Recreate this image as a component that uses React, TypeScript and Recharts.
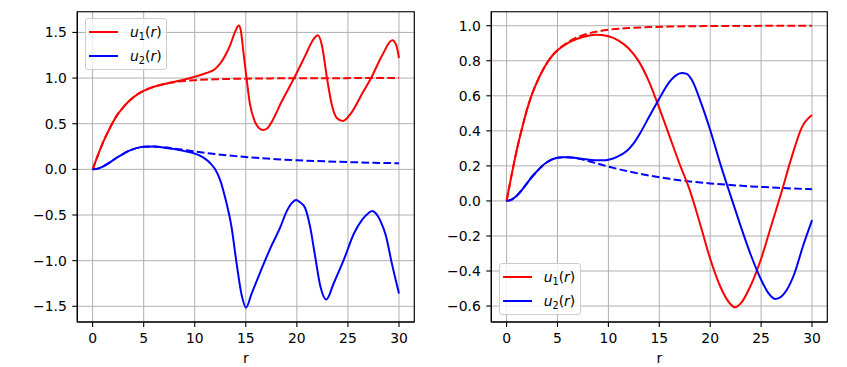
import { LineChart, Line, XAxis, YAxis, CartesianGrid, ReferenceArea } from 'recharts'

// reference curves (dashed), shared by both panels
const refR = [0, 0.5, 1, 1.5, 2, 2.5, 3, 3.5, 4, 4.5, 5, 6, 7, 8, 9, 10, 12, 14, 16, 18, 20, 22, 24, 26, 28, 30]
const refU1 = [0, 0.15, 0.29, 0.41, 0.52, 0.61, 0.68, 0.74, 0.79, 0.83, 0.86, 0.905, 0.935, 0.955, 0.968, 0.977, 0.987, 0.992, 0.995, 0.997, 0.998, 0.999, 0.999, 1.0, 1.0, 1.0]
const refU2 = [0, 0.008, 0.03, 0.062, 0.1, 0.138, 0.17, 0.2, 0.222, 0.238, 0.247, 0.25, 0.242, 0.228, 0.212, 0.196, 0.168, 0.145, 0.126, 0.111, 0.1, 0.091, 0.083, 0.077, 0.071, 0.067]

// left panel
const leftU1R = [0, 0.5, 1, 1.5, 2, 2.5, 3, 3.5, 4, 4.5, 5, 6, 7, 8, 9, 10, 11, 12, 12.5, 13, 13.5, 14, 14.3, 14.5, 14.75, 15.07, 15.4, 15.9, 16.3, 16.73, 17.2, 17.54, 18.5, 19.73, 20.8, 21.6, 22.06, 22.45, 22.95, 23.44, 23.93, 24.49, 25.4, 26.4, 27.27, 28.36, 29.34, 29.73, 30]
const leftU1 = [0, 0.15, 0.29, 0.41, 0.52, 0.61, 0.68, 0.74, 0.79, 0.83, 0.86, 0.905, 0.935, 0.96, 0.985, 1.015, 1.05, 1.1, 1.16, 1.25, 1.37, 1.52, 1.575, 1.53, 1.3, 1.0, 0.72, 0.52, 0.45, 0.43, 0.46, 0.52, 0.74, 1.0, 1.24, 1.42, 1.47, 1.36, 1.0, 0.7, 0.56, 0.53, 0.63, 0.83, 1.0, 1.25, 1.415, 1.36, 1.22]
const leftU2R = [0, 0.5, 1, 1.5, 2, 2.5, 3, 3.5, 4, 4.5, 5, 6, 7, 8, 9, 10, 10.5, 11, 11.5, 12, 12.5, 13, 13.6, 14.1, 14.6, 15.02, 15.57, 16.4, 17.4, 18.4, 19, 19.5, 19.93, 20.3, 20.8, 21.3, 21.8, 22.3, 22.89, 23.6, 24.6, 25.6, 26.4, 27, 27.38, 27.8, 28.2, 28.7, 29.3, 30]
const leftU2 = [0, 0.008, 0.03, 0.062, 0.1, 0.138, 0.17, 0.2, 0.222, 0.238, 0.247, 0.25, 0.238, 0.222, 0.2, 0.172, 0.15, 0.118, 0.07, 0.0, -0.12, -0.32, -0.63, -1.03, -1.38, -1.515, -1.36, -1.13, -0.865, -0.628, -0.46, -0.37, -0.336, -0.36, -0.42, -0.63, -0.96, -1.28, -1.425, -1.25, -0.99, -0.7, -0.55, -0.48, -0.455, -0.49, -0.57, -0.72, -1.03, -1.36]

// right panel
const rightU1R = [0, 0.5, 1, 1.5, 2, 2.5, 3, 3.5, 4, 4.5, 5, 6, 7, 8, 8.8, 10, 11, 12, 13, 14, 15, 16, 17, 18, 19, 20, 21, 22, 22.4, 23, 24, 25, 26, 27, 28, 29, 30]
const rightU1 = [0, 0.15, 0.29, 0.41, 0.52, 0.61, 0.68, 0.74, 0.79, 0.83, 0.86, 0.9, 0.927, 0.943, 0.948, 0.94, 0.915, 0.87, 0.795, 0.68, 0.53, 0.37, 0.21, 0.06, -0.13, -0.33, -0.49, -0.59, -0.607, -0.585, -0.48, -0.33, -0.14, 0.05, 0.25, 0.42, 0.49]
const rightU2R = [0, 0.5, 1, 1.5, 2, 2.5, 3, 3.5, 4, 4.5, 5, 5.5, 6, 7, 8, 9, 9.5, 10, 10.8, 11.8, 12.5, 13.1, 14, 15, 16, 16.6, 17.2, 17.7, 18.2, 19.1, 20, 21, 22, 23, 24, 25, 25.7, 26.4, 27, 27.5, 28.3, 29.1, 30]
const rightU2 = [0, 0.008, 0.03, 0.062, 0.1, 0.138, 0.17, 0.2, 0.222, 0.238, 0.247, 0.25, 0.25, 0.243, 0.236, 0.232, 0.232, 0.235, 0.25, 0.285, 0.33, 0.385, 0.48, 0.585, 0.68, 0.715, 0.73, 0.725, 0.69, 0.56, 0.405, 0.21, 0.03, -0.145, -0.31, -0.45, -0.525, -0.56, -0.545, -0.51, -0.41, -0.26, -0.11]

const xTicks = [0, 5, 10, 15, 20, 25, 30]
const leftYTicks = [-1.5, -1, -0.5, 0, 0.5, 1, 1.5]
const rightYTicks = [-0.6, -0.4, -0.2, 0, 0.2, 0.4, 0.6, 0.8, 1.0]

const FONT = '"DejaVu Sans", sans-serif'
const FS = 13.9
const RED = '#ff0000'
const BLUE = '#0000ff'
const DASH = '7.7 3.3'
const X_DOMAIN: [number, number] = [-1.5, 31.5]

const toPoints = (r: number[], v: number[]) => r.map((x, i) => ({ r: x, v: v[i] }))
const fmtY = (v: number) => v.toFixed(1).replace('-', '\u2212')

interface Series {
  r: number[]
  v: number[]
  color: string
  dashed?: boolean
}

function MathLabel({ sub }: { sub: number }) {
  return (
    <span>
      <i>u</i>
      <span style={{ fontSize: '0.7em', position: 'relative', top: '0.28em' }}>{sub}</span>
      <span>(</span>
      <i>r</i>
      <span>)</span>
    </span>
  )
}

function MathLegend({ left, top }: { left: number; top: number }) {
  const rows = [
    { color: RED, sub: 1 },
    { color: BLUE, sub: 2 },
  ]
  return (
    <div
      style={{
        position: 'absolute',
        left,
        top,
        width: 82,
        height: 52,
        boxSizing: 'border-box',
        border: '1px solid #cccccc',
        borderRadius: 3,
        background: 'rgba(255,255,255,0.8)',
        fontFamily: FONT,
        fontSize: FS,
      }}
    >
      {rows.map((row, i) => (
        <div key={row.sub}>
          <div
            style={{
              position: 'absolute',
              left: 3.3,
              top: 12.7 + 24.4 * i - 1,
              width: 29,
              height: 2,
              background: row.color,
            }}
          />
          <div
            style={{
              position: 'absolute',
              left: 44,
              top: 12.7 + 24.4 * i - 10,
              lineHeight: '20px',
              whiteSpace: 'nowrap',
            }}
          >
            <MathLabel sub={row.sub} />
          </div>
        </div>
      ))}
    </div>
  )
}

function Panel({
  width,
  yWidth,
  marginRight,
  yDomain,
  yTicks,
  series,
}: {
  width: number
  yWidth: number
  marginRight: number
  yDomain: [number, number]
  yTicks: number[]
  series: Series[]
}) {
  const tick = { fontSize: FS, fill: '#000', fontFamily: FONT }
  return (
    <LineChart
      width={width}
      height={367}
      margin={{ top: 11.7, right: marginRight, bottom: 0, left: 0 }}
    >
      <CartesianGrid stroke="#b0b0b0" strokeWidth={1} />
      <XAxis
        type="number"
        dataKey="r"
        domain={X_DOMAIN}
        allowDataOverflow
        ticks={xTicks}
        interval={0}
        height={45}
        tick={tick}
        tickSize={5}
        tickMargin={6}
        stroke="#000"
        strokeWidth={1.1}
        label={{ value: 'r', position: 'insideBottom', offset: 4, fontSize: FS, fill: '#000', fontFamily: FONT }}
      />
      <YAxis
        type="number"
        domain={yDomain}
        allowDataOverflow
        ticks={yTicks}
        interval={0}
        width={yWidth}
        tick={tick}
        tickSize={5}
        tickMargin={5.5}
        tickFormatter={fmtY}
        stroke="#000"
        strokeWidth={1.1}
      />
      {series.map((s, i) => (
        <Line
          key={i}
          data={toPoints(s.r, s.v)}
          dataKey="v"
          type="monotone"
          stroke={s.color}
          strokeWidth={2}
          strokeDasharray={s.dashed ? DASH : undefined}
          dot={false}
          activeDot={false}
          isAnimationActive={false}
        />
      ))}
      <ReferenceArea
        x1={X_DOMAIN[0]}
        x2={X_DOMAIN[1]}
        y1={yDomain[0]}
        y2={yDomain[1]}
        fill="none"
        stroke="#000"
        strokeWidth={1.1}
        ifOverflow="visible"
      />
    </LineChart>
  )
}

export default function App() {
  return (
    <div
      style={{
        position: 'absolute',
        left: 0,
        top: 0,
        width: 847,
        height: 367,
        background: '#fff',
        fontFamily: FONT,
      }}
    >
      <div style={{ position: 'absolute', left: 0, top: 0 }}>
        <Panel
          width={420}
          yWidth={77.3}
          marginRight={5.7}
          yDomain={[-1.672, 1.727]}
          yTicks={leftYTicks}
          series={[
            { r: refR, v: refU1, color: RED, dashed: true },
            { r: refR, v: refU2, color: BLUE, dashed: true },
            { r: leftU1R, v: leftU1, color: RED },
            { r: leftU2R, v: leftU2, color: BLUE },
          ]}
        />
        <MathLegend left={85} top={18.3} />
      </div>
      <div style={{ position: 'absolute', left: 420, top: 0 }}>
        <Panel
          width={427}
          yWidth={71.3}
          marginRight={19.7}
          yDomain={[-0.691, 1.08]}
          yTicks={rightYTicks}
          series={[
            { r: refR, v: refU1, color: RED, dashed: true },
            { r: refR, v: refU2, color: BLUE, dashed: true },
            { r: rightU1R, v: rightU1, color: RED },
            { r: rightU2R, v: rightU2, color: BLUE },
          ]}
        />
        <MathLegend left={78.7} top={263.3} />
      </div>
    </div>
  )
}
